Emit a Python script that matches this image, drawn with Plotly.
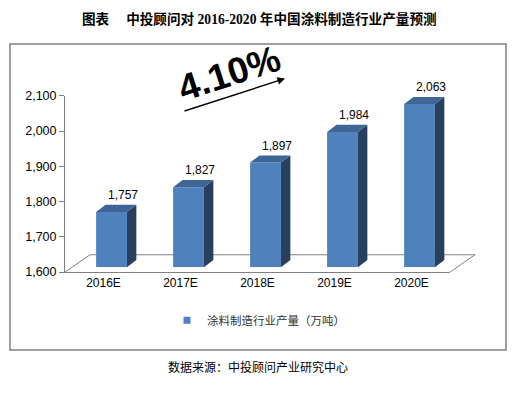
import plotly.graph_objects as go

# page body has an 8px default margin, so the figure is drawn 8px in from the window edge
OFF = 8
W, H = 521 - OFF * 2, 393 - OFF * 2

# ---- data ----
categories = ["2016E", "2017E", "2018E", "2019E", "2020E"]
values = [1757, 1827, 1897, 1984, 2063]
y_ticks = [1600, 1700, 1800, 1900, 2000, 2100]
y_tick_labels = ["1,600", "1,700", "1,800", "1,900", "2,000", "2,100"]
series_name = "涂料制造行业产量（万吨）"
growth_label = "4.10%"
title_text = "图表　 中投顾问对 2016-2020 年中国涂料制造行业产量预测"
source_text = "数据来源：中投顾问产业研究中心"

# ---- style ----
FRONT = "#4F81BD"
TOP = "#3D6595"
SIDE = "#283F5E"
GRAY = "#808080"
Y0, Y1 = 1600, 2100
BAR_W = 0.4
DX = 0.123   # depth in category units
DY = 20.5    # depth in value units
LATIN = "Liberation Sans, Arial, sans-serif"
CJK = "Noto Sans CJK SC, sans-serif"


def px(x):
    return (x - OFF) / W


def py(y):
    return 1 - (y - OFF) / H


idx = list(range(len(categories)))

fig = go.Figure()

# anchor trace for the visible axes
fig.add_trace(go.Scatter(x=[None], y=[None], xaxis="x", yaxis="y", showlegend=False,
                         hoverinfo="skip"))

# front faces
fig.add_trace(go.Bar(
    x=idx, y=[v - Y0 for v in values], base=Y0, width=BAR_W,
    marker=dict(color=FRONT, line=dict(width=0)),
    xaxis="x2", yaxis="y2", showlegend=False, hoverinfo="skip"))

# side faces and top faces
sx, sy, tx, ty = [], [], [], []
for i, v in zip(idx, values):
    r = i + BAR_W / 2
    l = i - BAR_W / 2
    sx += [r, r, r + DX, r + DX, r, None]
    sy += [Y0, v, v + DY, Y0 + DY, Y0, None]
    tx += [l, r, r + DX, l + DX, l, None]
    ty += [v, v, v + DY, v + DY, v, None]
fig.add_trace(go.Scatter(x=sx, y=sy, fill="toself", fillcolor=SIDE, mode="lines",
                         line=dict(width=0, color=SIDE), xaxis="x2", yaxis="y2",
                         showlegend=False, hoverinfo="skip"))
fig.add_trace(go.Scatter(x=tx, y=ty, fill="toself", fillcolor=TOP, mode="lines",
                         line=dict(width=0, color=TOP), xaxis="x2", yaxis="y2",
                         showlegend=False, hoverinfo="skip"))

# legend entry
fig.add_trace(go.Scatter(x=[None], y=[None], mode="markers", name=series_name,
                         marker=dict(symbol="square", size=7, color=FRONT),
                         xaxis="x2", yaxis="y2"))

annotations = []
# data labels
for i, v in zip(idx, values):
    annotations.append(dict(
        x=i + 0.15, y=v, xref="x2", yref="y2", text=f"{v:,}", showarrow=False,
        xanchor="center", yanchor="middle",
        yshift=17, font=dict(family=LATIN, size=12, color="#000000")))

# title
annotations.append(dict(x=px(259), y=py(12), xref="paper", yref="paper",
                        xanchor="center", yanchor="middle",
                        text=f"<b>{title_text}</b>", showarrow=False,
                        font=dict(family="Liberation Serif, " + CJK, size=13.6, color="#000000")))
# growth text
annotations.append(dict(x=px(229), y=py(69), xref="paper", yref="paper",
                        xanchor="center", yanchor="middle",
                        text=f"<b>{growth_label}</b>", showarrow=False, textangle=-18,
                        font=dict(family=LATIN, size=37, color="#000000")))
# arrow
annotations.append(dict(x=px(285), y=py(74), xref="paper", yref="paper", text="",
                        showarrow=True, ax=-102, ay=33, arrowhead=2, arrowsize=1,
                        arrowwidth=1.5, arrowcolor="#000000"))
# source
annotations.append(dict(x=px(258), y=py(373), xref="paper", yref="paper",
                        xanchor="center", yanchor="middle",
                        text=source_text, showarrow=False,
                        font=dict(family=CJK, size=12, color="#000000")))

shapes = [
    dict(type="path", xref="paper", yref="paper",
         path=(f"M {px(10)},{py(38)} L {px(506)},{py(38)} L {px(506)},{py(356)} "
               f"L {px(10)},{py(356)} Z"),
         line=dict(color=GRAY, width=1.5), layer="below"),
    dict(type="path", xref="paper", yref="paper",
         path=f"M {px(65)},{py(275)} L {px(90)},{py(257)} L {px(475)},{py(257)} L {px(450)},{py(275)}",
         line=dict(color=GRAY, width=1), layer="below"),
]

fig.update_layout(
    width=W, height=H, margin=dict(l=0, r=0, t=0, b=0),
    paper_bgcolor="white", plot_bgcolor="rgba(0,0,0,0)",
    showlegend=True,
    legend=dict(x=px(167), y=py(325), xanchor="left", yanchor="middle",
                orientation="h", font=dict(family=CJK, size=11.5, color="#333333"),
                bgcolor="rgba(0,0,0,0)"),
    xaxis=dict(domain=[px(65), px(450)], range=[-0.5, 4.5], tickvals=idx, ticktext=categories,
               showline=True, linecolor=GRAY, linewidth=1, ticks="", showgrid=False,
               zeroline=False, anchor="y", tickfont=dict(family=LATIN, size=12, color="#000000"),
               fixedrange=True),
    yaxis=dict(domain=[py(275), py(92)], range=[Y0, Y1], tickvals=y_ticks, ticktext=y_tick_labels,
               ticks="outside", ticklen=5, tickcolor=GRAY, showline=True, linecolor=GRAY,
               linewidth=1, showgrid=False, zeroline=False, anchor="x",
               tickfont=dict(family=LATIN, size=12.5, color="#000000"), fixedrange=True),
    xaxis2=dict(domain=[px(73), px(458)], range=[-0.5, 4.5], visible=False, anchor="y2",
                fixedrange=True),
    yaxis2=dict(domain=[py(270), py(87)], range=[Y0, Y1], visible=False, anchor="x2",
                fixedrange=True),
    annotations=annotations,
    shapes=shapes,
)

fig.write_html("out.html")
